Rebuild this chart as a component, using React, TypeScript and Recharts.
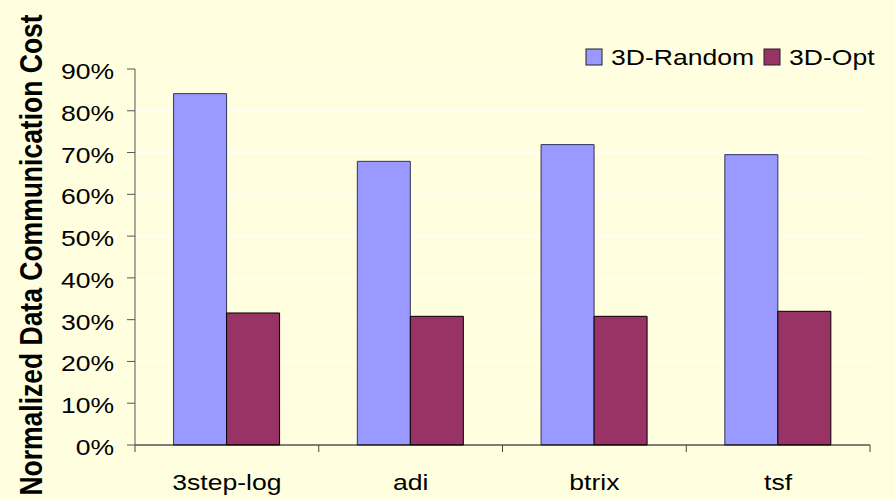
import { BarChart, Bar, XAxis, YAxis, CartesianGrid } from "recharts";

const kernels = ["3step-log", "adi", "btrix", "tsf"];
const randomCost = [84.1, 67.9, 71.9, 69.5];
const optCost = [31.6, 30.8, 30.8, 32.0];
const percentTicks = [0, 10, 20, 30, 40, 50, 60, 70, 80, 90];

const data = kernels.map((name, i) => ({
  name,
  random: randomCost[i],
  opt: optCost[i],
}));

const FONT = '"Liberation Sans", Arial, Helvetica, sans-serif';
const STRETCH = 1.18;
const BG = "#FFFFE0";
const BLUE = "#9999FF";
const PLUM = "#993366";

function YTick(props: any) {
  const { x, y, payload } = props;
  return (
    <text
      transform={`translate(${x - 13},${y + 10}) scale(${STRETCH},1)`}
      textAnchor="end"
      fontSize={22.5}
      fontFamily={FONT}
      fill="#000"
    >
      {`${payload.value}%`}
    </text>
  );
}

function XTick(props: any) {
  const { x, y, payload, index, visibleTicksCount } = props;
  const half = payload.offset ?? 0;
  const last = index === visibleTicksCount - 1;
  return (
    <g>
      <line x1={x - half} x2={x - half} y1={y} y2={y + 7} stroke="#444" />
      {last && <line x1={x + half} x2={x + half} y1={y} y2={y + 7} stroke="#444" />}
      <text
        transform={`translate(${x},${y + 45}) scale(${STRETCH},1)`}
        textAnchor="middle"
        fontSize={22.5}
        fontFamily={FONT}
        fill="#000"
      >
        {payload.value}
      </text>
    </g>
  );
}

function YTitle() {
  return (
    <text
      transform={`translate(42,255) scale(${STRETCH},1) rotate(-90)`}
      textAnchor="middle"
      fontSize={26.5}
      fontWeight="bold"
      fontFamily={FONT}
      fill="#000"
    >
      Normalized Data Communication Cost
    </text>
  );
}

// legend sits over the chart's top-right corner
function LegendBox() {
  const items = [
    { label: "3D-Random", color: BLUE, sx: 586, tx: 611 },
    { label: "3D-Opt", color: PLUM, sx: 764, tx: 789 },
  ];
  return (
    <svg width={895} height={40} style={{ position: "absolute", left: 0, top: 40 }}>
      {items.map((it) => (
        <g key={it.label}>
          <rect x={it.sx} y={9} width={16} height={16} fill={it.color} stroke="#222" />
          <text
            transform={`translate(${it.tx},25) scale(${STRETCH},1)`}
            fontSize={22.5}
            fontFamily={FONT}
            fill="#000"
          >
            {it.label}
          </text>
        </g>
      ))}
    </svg>
  );
}

export default function App() {
  return (
    <div style={{ position: "absolute", left: 0, top: 0, width: 895, height: 499, background: BG }}>
      <BarChart
        width={895}
        height={499}
        data={data}
        margin={{ top: 69, right: 25, bottom: 0, left: 0 }}
        barGap={0}
        barCategoryGap="21%"
      >
        <CartesianGrid horizontal vertical={false} stroke="#FFFFFF" />
        <XAxis
          dataKey="name"
          height={54}
          tickLine={false}
          tickSize={0}
          tickMargin={0}
          stroke="#000"
          tick={<XTick />}
          interval={0}
        />
        <YAxis
          width={135}
          domain={[0, 90]}
          ticks={percentTicks}
          interval={0}
          tickSize={8}
          tickMargin={0}
          stroke="#555"
          tick={<YTick />}
          label={<YTitle />}
        />
        <Bar dataKey="random" fill={BLUE} stroke="#333355" strokeWidth={1} isAnimationActive={false} />
        <Bar dataKey="opt" fill={PLUM} stroke="#000" strokeWidth={1} isAnimationActive={false} />
      </BarChart>
      <LegendBox />
    </div>
  );
}
